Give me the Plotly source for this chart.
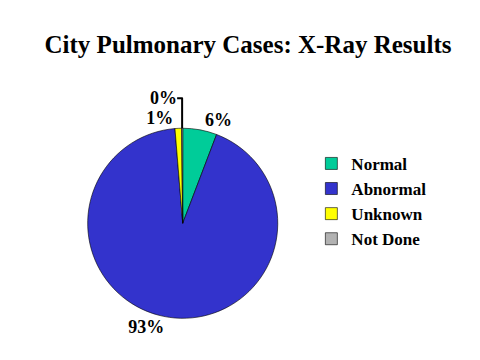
import plotly.graph_objects as go

categories = ["Normal", "Abnormal", "Unknown", "Not Done"]
values = [5.8, 92.9, 1.1, 0.2]
colors = ["#00CC99", "#3333CC", "#FFFF00", "#B2B2B2"]

fig = go.Figure(go.Pie(
    labels=categories,
    values=values,
    sort=False,
    direction="clockwise",
    rotation=0,
    marker=dict(colors=colors, line=dict(color="#000000", width=0.6)),
    textinfo="percent",
    textposition="outside",
    texttemplate="%{percent:.0%}",
    textfont=dict(family="Liberation Serif", size=18, color="#000000", weight="bold"),
    domain=dict(x=[0.166, 0.562], y=[0.138, 0.666]),
    hoverinfo="label+percent",
))

fig.update_layout(
    width=480, height=360,
    margin=dict(l=0, r=0, t=0, b=0),
    paper_bgcolor="#FFFFFF",
    plot_bgcolor="#FFFFFF",
    title=dict(text="<b>City Pulmonary Cases: X-Ray Results</b>",
               font=dict(family="Liberation Serif", size=25, color="#000000"),
               x=0.5, xanchor="center", y=0.9, yanchor="middle"),
    legend=dict(x=0.632, y=0.617, xanchor="left", yanchor="top",
                font=dict(family="Liberation Serif", size=17, color="#000000", weight="bold"),
                itemwidth=30, tracegroupgap=0, bgcolor="rgba(0,0,0,0)"),
    showlegend=True,
)

fig.write_html("out.html")
